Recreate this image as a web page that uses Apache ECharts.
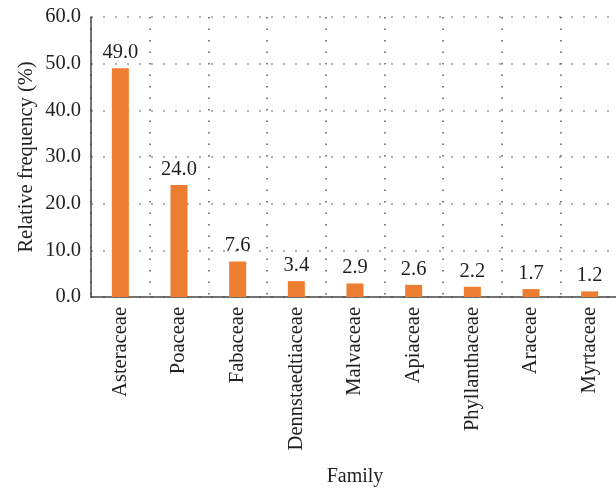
<!DOCTYPE html>
<html>
<head>
<meta charset="utf-8">
<script src="https://cdn.jsdelivr.net/npm/echarts@6/dist/echarts.min.js"></script>
<style>
  html, body { margin: 0; padding: 0; background: #fff; }
  #chart { width: 616px; height: 489px; }
</style>
</head>
<body>
<div id="chart"></div>
<script>
// Plant families and their relative frequency (%)
const families = ['Asteraceae', 'Poaceae', 'Fabaceae', 'Dennstaedtiaceae', 'Malvaceae',
                  'Apiaceae', 'Phyllanthaceae', 'Araceae', 'Myrtaceae'];
const frequency = [49.0, 24.0, 7.6, 3.4, 2.9, 2.6, 2.2, 1.7, 1.2];
const yTicks = { min: 0, max: 60, interval: 10 };

const serif = '"Liberation Serif", "DejaVu Serif", serif';
const textColor = '#231f20';

const chart = echarts.init(document.getElementById('chart'));
chart.setOption({
  animation: false,
  grid: {
    left: 91, top: 17, width: 528, height: 280,
    containLabel: false, outerBoundsMode: 'none'
  },
  xAxis: {
    type: 'category',
    data: families,
    name: 'Family',
    nameLocation: 'middle',
    nameGap: 170,
    nameMoveOverlap: false,
    nameTextStyle: { fontFamily: serif, fontSize: 20, color: textColor },
    axisLine: { lineStyle: { color: '#444', width: 1.5 } },
    axisTick: { show: false },
    axisLabel: {
      rotate: 90, interval: 0, margin: 10,
      fontFamily: serif, fontSize: 20.5, color: textColor
    },
    splitLine: {
      show: true, interval: 0,
      lineStyle: { color: '#555', type: [1.5, 10], width: 1.5 }
    }
  },
  yAxis: {
    type: 'value',
    min: yTicks.min, max: yTicks.max, interval: yTicks.interval,
    name: 'Relative frequency (%)',
    nameLocation: 'middle',
    nameGap: 54,
    nameMoveOverlap: false,
    nameTextStyle: { fontFamily: serif, fontSize: 20.5, color: textColor },
    axisLine: { show: true, lineStyle: { color: '#444', width: 1.5 } },
    axisTick: { show: false },
    axisLabel: {
      margin: 10, fontFamily: serif, fontSize: 20.5, color: textColor,
      formatter: v => v.toFixed(1)
    },
    splitLine: {
      show: true,
      lineStyle: { color: '#999', type: [2, 10], width: 1.5 }
    }
  },
  series: [{
    type: 'bar',
    data: frequency,
    barWidth: 17,
    itemStyle: { color: '#ED7D31' },
    label: {
      show: true, position: 'top', distance: 5,
      fontFamily: serif, fontSize: 20.5, color: textColor,
      formatter: p => p.value.toFixed(1)
    }
  }]
});
</script>
</body>
</html>
